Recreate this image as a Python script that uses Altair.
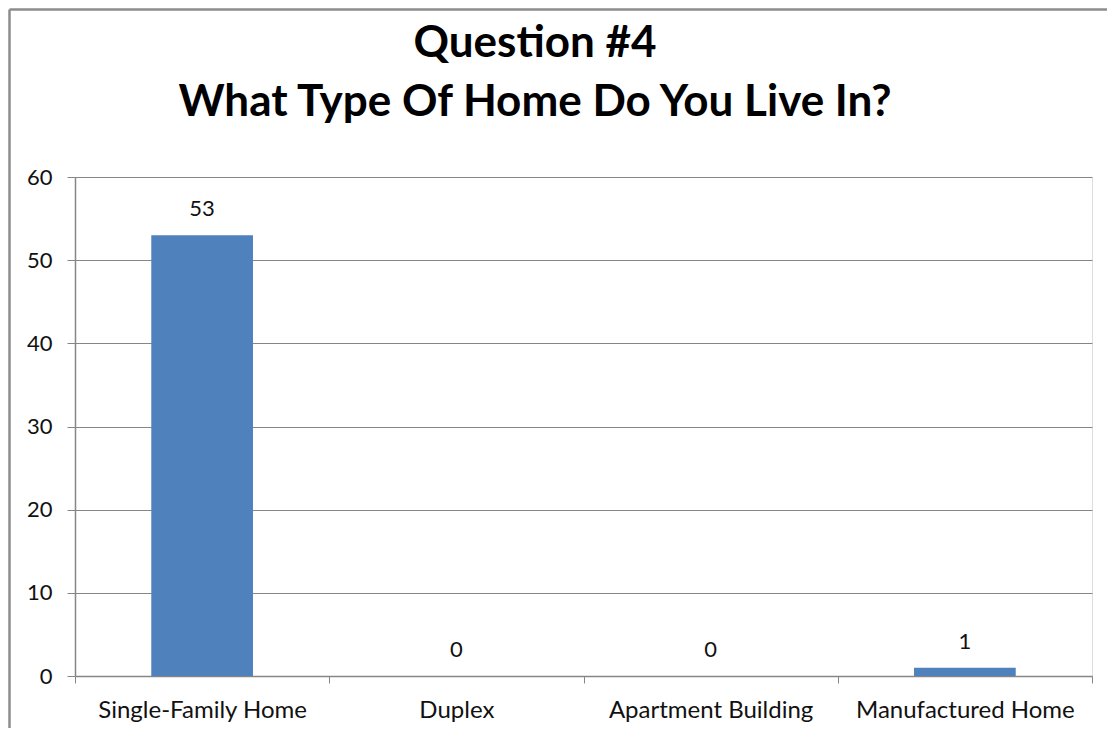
import altair as alt
import pandas as pd

categories = ["Single-Family Home", "Duplex", "Apartment Building", "Manufactured Home"]
counts = [53, 0, 0, 1]
title_lines = ["Question #4", "What Type Of Home Do You Live In?"]

df = pd.DataFrame({"cat": categories, "count": counts})

W, H = 1017, 499
FONT = "Lato"
TXT = "#111111"
GRID = "#868686"

x_enc = alt.X(
    "cat:N",
    sort=categories,
    title=None,
    scale=alt.Scale(paddingInner=0, paddingOuter=0),
    axis=alt.Axis(
        labelAngle=0,
        labelFontSize=24,
        labelColor=TXT,
        labelFont=FONT,
        labelPadding=15,
        labelLimit=0,
        tickBand="extent",
        tickSize=7,
        tickColor=GRID,
        domainColor=GRID,
        domainWidth=1.5,
        grid=False,
    ),
)
y_enc = alt.Y(
    "count:Q",
    title=None,
    scale=alt.Scale(domain=[0, 60]),
    axis=alt.Axis(
        values=[0, 10, 20, 30, 40, 50, 60],
        labelFontSize=22,
        labelColor=TXT,
        labelFont=FONT,
        labelPadding=15,
        tickSize=8,
        tickColor=GRID,
        domainColor=GRID,
        domainWidth=1.5,
        gridColor=GRID,
        gridWidth=1,
    ),
)

base = alt.Chart(df)

bars = base.mark_bar(color="#4F81BD", width=alt.RelativeBandSize(0.4)).encode(x=x_enc, y=y_enc)

labels = base.mark_text(
    baseline="bottom", dy=-14, fontSize=22, font=FONT, color=TXT
).encode(x=x_enc, y=y_enc, text="count:Q")

one = pd.DataFrame({"a": [0]})

border_left = alt.Chart(one).mark_rule(color="#8c8c8c", strokeWidth=2.5).encode(
    x=alt.value(-65.5), y=alt.value(-167.5), y2=alt.value(H + 200)
)
border_top = alt.Chart(one).mark_rule(color="#8c8c8c", strokeWidth=2.5).encode(
    x=alt.value(-65.5), x2=alt.value(W + 200), y=alt.value(-167.5)
)

title1 = alt.Chart(one).mark_text(
    text=title_lines[0], fontSize=44, font=FONT, fontWeight="bold", color="#000000",
    align="center", baseline="middle",
).encode(x=alt.value(460), y=alt.value(-133))
title2 = alt.Chart(one).mark_text(
    text=title_lines[1], fontSize=44, font=FONT, fontWeight="bold", color="#000000",
    align="center", baseline="middle",
).encode(x=alt.value(460), y=alt.value(-74))

chart = alt.layer(border_left, border_top, bars, labels, title1, title2).properties(
    width=W,
    height=H,
    autosize=alt.AutoSizeParams(type="none"),
    padding={"left": 67, "top": 169, "right": 15, "bottom": 52},
).configure_view(stroke=None).configure(background="white")

chart.save("out.html", embed_options={"renderer": "svg", "actions": False})
